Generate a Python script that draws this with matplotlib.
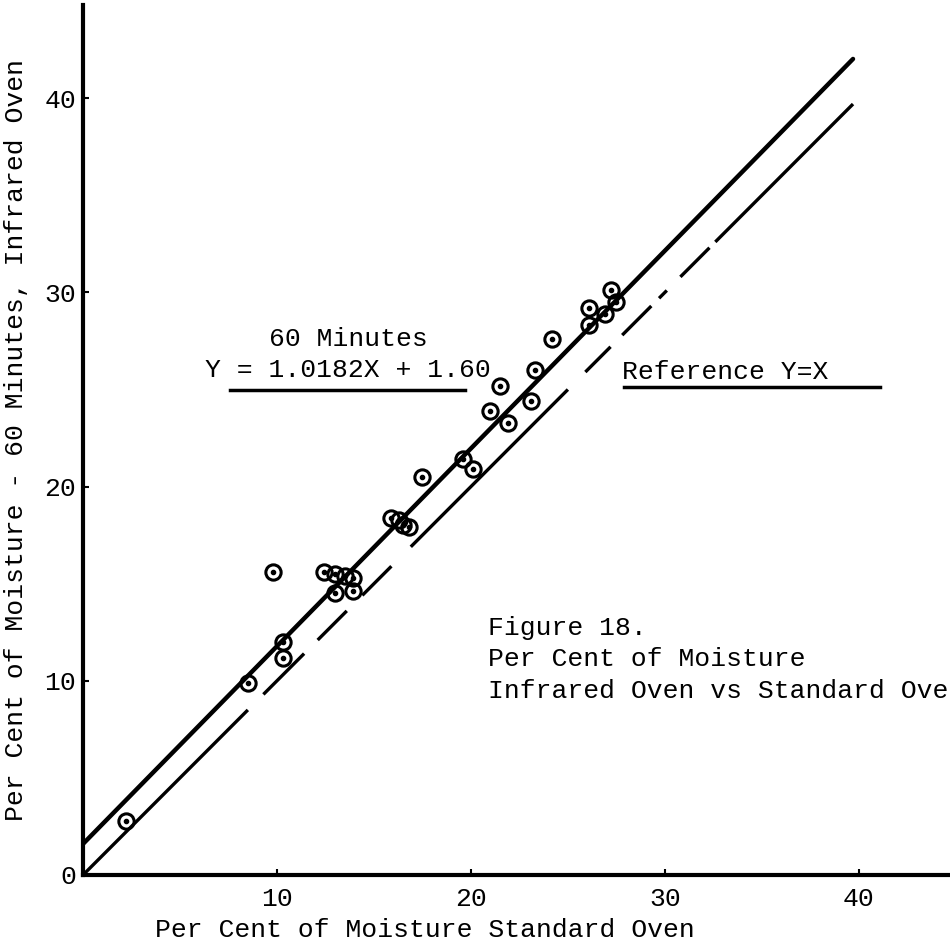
import numpy as np
import matplotlib
matplotlib.use('Agg')
import matplotlib.pyplot as plt

# moisture readings, standard oven (x) vs infrared oven 60 min (y)
moist_std = [2.2, 8.5, 10.3, 10.3, 9.8, 12.4, 13.0, 13.5, 13.9, 13.0, 13.9,
             15.9, 16.3, 16.5, 16.8, 17.5, 19.6, 20.1, 21.0, 21.5, 21.9,
             23.1, 23.3, 24.2, 26.1, 26.1, 26.9, 27.2, 27.5]
moist_ir = [2.8, 9.9, 12.0, 11.2, 15.6, 15.6, 15.5, 15.4, 15.3, 14.5, 14.6,
            18.4, 18.3, 18.0, 17.9, 20.5, 21.4, 20.9, 23.9, 25.2, 23.3,
            24.4, 26.0, 27.6, 29.2, 28.3, 28.9, 30.1, 29.5]

# regression Y = 1.0182X + 1.60
slope, intercept = 1.0182, 1.60
line_end = 39.7

# reference Y=X, drawn in pieces (solid ends, dashed middle)
ref_pieces = [(0, 8.5), (9.3, 11.4), (12.1, 13.6), (14.4, 15.9), (16.9, 25.0),
              (25.9, 27.2), (27.8, 29.3), (29.7, 30.1), (30.8, 32.3), (32.6, 39.7)]

xticks = [10, 20, 30, 40]
yticks = [0, 10, 20, 30, 40]

font = 'Liberation Mono'
fs = 19

fig = plt.figure(figsize=(9.5, 9.48), dpi=100)
ax = fig.add_axes([83/950, 73/948, 867/950, 870/948])
ax.set_xlim(0, 44.7)
ax.set_ylim(0, 44.8)

# fitted line
xf = np.array([0, line_end])
ax.plot(xf, slope*xf + intercept, color='black', lw=3.2, solid_capstyle='round')

# reference line
for a, b in ref_pieces:
    xr = np.array([a, b])
    ax.plot(xr, xr, color='black', lw=2.4, solid_capstyle='butt')

# data points: ringed dots
ax.plot(moist_std, moist_ir, linestyle='None', marker='o', ms=11, mfc='none',
        mec='black', mew=2.2)
ax.plot(moist_std, moist_ir, linestyle='None', marker='o', ms=3, color='black')

for s in ['top', 'right']:
    ax.spines[s].set_visible(False)
for s in ['left', 'bottom']:
    ax.spines[s].set_linewidth(3)

ax.set_xticks(xticks)
ax.set_yticks(yticks)
ax.tick_params(direction='in', length=4, width=1.5)
ax.tick_params(axis='x', pad=9)
ax.tick_params(axis='y', pad=5)
for lab in ax.get_xticklabels() + ax.get_yticklabels():
    lab.set_fontfamily(font)
    lab.set_fontsize(fs)

# annotations
ax.text(13.7, 27.6, '60 Minutes', family=font, fontsize=fs, ha='center', va='center')
ax.text(6.3, 26.0, 'Y = 1.0182X + 1.60', family=font, fontsize=fs, ha='left', va='center')
ax.plot([7.6, 19.7], [25.0, 25.0], color='black', lw=2.5)
ax.text(27.8, 25.9, 'Reference Y=X', family=font, fontsize=fs, ha='left', va='center')
ax.plot([27.9, 41.1], [25.15, 25.15], color='black', lw=2.5)

ax.text(20.9, 12.7, 'Figure 18.', family=font, fontsize=fs, ha='left', va='center')
ax.text(20.9, 11.1, 'Per Cent of Moisture', family=font, fontsize=fs, ha='left', va='center')
ax.text(20.9, 9.5, 'Infrared Oven vs Standard Oven', family=font, fontsize=fs,
        ha='left', va='center', clip_on=False)

fig.text(425/950, 1 - 930/948, 'Per Cent of Moisture Standard Oven', family=font,
         fontsize=fs, ha='center', va='center')
fig.text(16/950, 1 - 440/948, 'Per Cent of Moisture - 60 Minutes, Infrared Oven',
         family=font, fontsize=fs, ha='center', va='center', rotation=90)

fig.savefig('out.png', dpi=100)
